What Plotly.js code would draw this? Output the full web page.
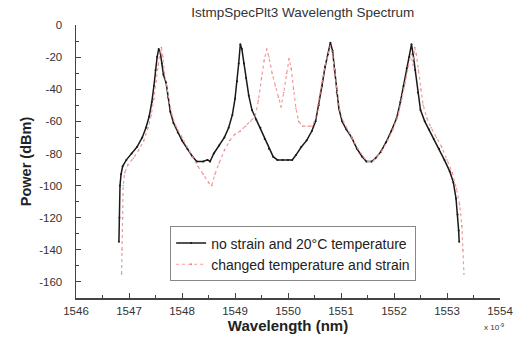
<!DOCTYPE html>
<html>
<head>
<meta charset="utf-8">
<script src="https://cdn.plot.ly/plotly-3.0.1.min.js"></script>
<style>html,body{margin:0;padding:0;background:#fff;}#chart{width:522px;height:342px;}</style>
</head>
<body>
<div id="chart"></div>
<script>
// Series 1: no strain and 20°C temperature
const wlBlack = [1546.81,1546.82,1546.83,1546.85,1546.88,1546.95,1547.05,1547.15,1547.25,1547.32,1547.38,1547.43,1547.47,1547.50,1547.53,1547.56,1547.59,1547.62,1547.65,1547.70,1547.74,1547.78,1547.84,1547.92,1548.00,1548.10,1548.20,1548.28,1548.40,1548.48,1548.53,1548.60,1548.70,1548.80,1548.88,1548.95,1549.00,1549.04,1549.07,1549.10,1549.13,1549.17,1549.21,1549.26,1549.32,1549.40,1549.48,1549.56,1549.64,1549.72,1549.80,1549.90,1550.00,1550.08,1550.15,1550.25,1550.35,1550.45,1550.52,1550.58,1550.64,1550.70,1550.76,1550.80,1550.84,1550.88,1550.92,1550.96,1551.02,1551.10,1551.20,1551.30,1551.40,1551.48,1551.58,1551.65,1551.75,1551.85,1551.95,1552.05,1552.12,1552.18,1552.24,1552.29,1552.33,1552.36,1552.40,1552.45,1552.50,1552.58,1552.66,1552.75,1552.85,1552.95,1553.05,1553.12,1553.17,1553.20,1553.22,1553.23];
const pwBlack = [-135,-120,-100,-93,-88,-84,-80,-76,-70,-64,-57,-48,-38,-28,-20,-15,-17,-24,-31,-36,-45,-54,-61,-67,-72,-77,-82,-85,-85,-84,-85,-80,-75,-70,-64,-56,-46,-35,-24,-12,-15,-24,-33,-44,-53,-59,-64,-71,-77,-82,-84,-84,-84,-84,-81,-76,-72,-66,-60,-50,-38,-26,-18,-11,-16,-28,-42,-52,-60,-65,-70,-77,-82,-85,-85,-83,-79,-73,-66,-58,-48,-38,-27,-20,-12,-18,-28,-42,-53,-60,-65,-71,-77,-84,-91,-98,-108,-118,-128,-135];

// Series 2: changed temperature and strain
const wlRed = [1546.86,1546.87,1546.88,1546.89,1546.92,1546.98,1547.08,1547.18,1547.28,1547.36,1547.42,1547.47,1547.51,1547.55,1547.58,1547.61,1547.64,1547.67,1547.71,1547.76,1547.82,1547.90,1548.00,1548.10,1548.20,1548.30,1548.40,1548.50,1548.56,1548.62,1548.70,1548.80,1548.90,1549.00,1549.10,1549.20,1549.30,1549.38,1549.44,1549.50,1549.55,1549.60,1549.64,1549.70,1549.76,1549.82,1549.87,1549.92,1549.97,1550.02,1550.06,1550.10,1550.15,1550.20,1550.28,1550.38,1550.46,1550.52,1550.58,1550.64,1550.70,1550.76,1550.80,1550.84,1550.88,1550.92,1550.97,1551.03,1551.12,1551.22,1551.32,1551.42,1551.50,1551.60,1551.68,1551.78,1551.88,1551.98,1552.08,1552.15,1552.21,1552.27,1552.32,1552.36,1552.39,1552.42,1552.46,1552.50,1552.55,1552.62,1552.70,1552.80,1552.90,1553.00,1553.10,1553.18,1553.24,1553.28,1553.30,1553.32];
const pwRed = [-155,-140,-120,-100,-92,-87,-83,-78,-72,-64,-56,-46,-35,-25,-18,-14,-20,-30,-38,-48,-57,-64,-70,-76,-82,-88,-93,-98,-100,-93,-86,-78,-72,-68,-66,-63,-60,-57,-47,-33,-22,-15,-20,-30,-38,-45,-51,-42,-30,-21,-27,-40,-52,-60,-63,-63,-63,-58,-48,-36,-25,-17,-13,-18,-28,-40,-52,-59,-65,-71,-77,-82,-85,-85,-82,-78,-72,-65,-56,-46,-36,-26,-18,-25,-14,-18,-28,-40,-50,-58,-64,-70,-76,-84,-92,-102,-112,-125,-140,-155];

const seriesNames = ["no strain and 20°C temperature", "changed temperature and strain"];
const xTickVals = [1546,1547,1548,1549,1550,1551,1552,1553,1554];
const xTickText = ["1546","1547","1548","1549","1550","1551","1552","1553","1554"];
const yTickVals = [0,-20,-40,-60,-80,-100,-120,-140,-160];
const yTickText = ["0","-20","-40","-60","-80","-100","-120","-140","-160"];

const traces = [
  {x: wlBlack, y: pwBlack, name: seriesNames[0], type: 'scatter', mode: 'lines+markers',
   line: {color: '#1a1a1a', width: 1.5}, marker: {color: '#1a1a1a', size: 2}},
  {x: wlRed, y: pwRed, name: seriesNames[1], type: 'scatter', mode: 'lines+markers',
   line: {color: '#f29a9a', width: 1.2, dash: 'dot'}, marker: {color: '#ee8080', size: 1.5}}
];

const FF = 'Liberation Sans, Arial, sans-serif';
const axisFont = {family: FF, size: 11.5, color: '#333'};
const layout = {
  width: 522, height: 342,
  margin: {l: 76, r: 22, t: 25, b: 44},
  paper_bgcolor: '#fff', plot_bgcolor: '#fff',
  font: {family: FF, color: '#333'},
  title: {text: 'IstmpSpecPlt3 Wavelength Spectrum', x: 0.58, xanchor: 'center', y: 0.978, yanchor: 'top',
          font: {family: FF, size: 13.5, color: '#333'}},
  showlegend: true,
  legend: {x: 0.222, y: 0.262, xanchor: 'left', yanchor: 'top', bgcolor: '#fff',
           bordercolor: '#888', borderwidth: 1, tracegroupgap: 0, itemwidth: 30,
           font: {family: FF, size: 14, color: '#222'}},
  xaxis: {range: [1546, 1554], tickvals: xTickVals, ticktext: xTickText, ticks: 'inside', ticklen: 5,
          tickcolor: '#444', tickwidth: 1, showline: true, linecolor: '#444', linewidth: 1.5,
          showgrid: false, zeroline: false, tickfont: axisFont, ticklabelstandoff: 2,
          minor: {dtick: 0.5, ticks: 'inside', ticklen: 3, tickcolor: '#444', showgrid: false},
          title: {text: '<b>Wavelength (nm)</b>', standoff: 4,
                  font: {family: FF, size: 15, color: '#222'}}},
  yaxis: {range: [-170, 0], tickvals: yTickVals, ticktext: yTickText, ticks: 'inside', ticklen: 5,
          tickcolor: '#444', tickwidth: 1, showline: true, linecolor: '#444', linewidth: 1.5,
          showgrid: false, zeroline: false, tickfont: axisFont, ticklabelstandoff: 10,
          minor: {dtick: 10, ticks: 'inside', ticklen: 3, tickcolor: '#444', showgrid: false},
          title: {text: '<b>Power (dBm)</b>', standoff: 4,
                  font: {family: FF, size: 14.5, color: '#222'}}},
  annotations: [
    {text: 'x 10<sup>-9</sup>', xref: 'paper', yref: 'paper', x: 0.985, y: -0.08, xanchor: 'center', yanchor: 'top',
     showarrow: false, font: {family: FF, size: 8, color: '#333'}}
  ]
};

Plotly.newPlot('chart', traces, layout, {displayModeBar: false, staticPlot: true});
</script>
</body>
</html>
